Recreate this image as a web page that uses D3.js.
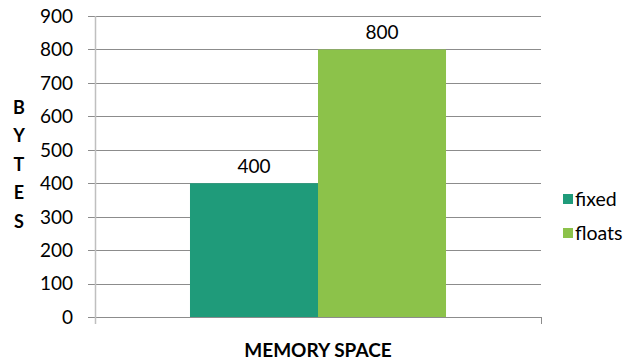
<!DOCTYPE html>
<html>
<head>
<meta charset="utf-8">
<script src="https://cdn.jsdelivr.net/npm/d3@7"></script>
<style>
  html, body { margin: 0; padding: 0; background: #fff; }
  svg { display: block; font-family: Lato, "Open Sans", sans-serif; }
</style>
</head>
<body>
<svg id="chart" width="636" height="364"></svg>
<script>
// Memory used by each number representation
const categories = ["MEMORY SPACE"];
const seriesNames = ["fixed", "floats"];
const seriesValues = [400, 800];
const seriesColors = ["#1f9b7a", "#8cc24a"];
const yTicks = [0, 100, 200, 300, 400, 500, 600, 700, 800, 900];
const yTitle = "BYTES";

const svg = d3.select("#chart");
const plot = { left: 95, right: 541, top: 16, bottom: 317 };

const y = d3.scaleLinear().domain([0, 900]).range([plot.bottom, plot.top]);
const x0 = d3.scaleBand().domain(categories).range([plot.left, plot.right]).paddingInner(0).paddingOuter(0.371);
const x1 = d3.scaleBand().domain(seriesNames).range([0, x0.bandwidth()]).padding(0);

// horizontal gridlines with small outside ticks
svg.append("g")
  .selectAll("line")
  .data(yTicks)
  .join("line")
  .attr("x1", plot.left - 7)
  .attr("x2", plot.right)
  .attr("y1", d => Math.round(y(d)) + 0.5)
  .attr("y2", d => Math.round(y(d)) + 0.5)
  .attr("stroke", "#8c8c8c")
  .attr("stroke-width", 1);

// tick labels
svg.append("g")
  .selectAll("text")
  .data(yTicks)
  .join("text")
  .attr("x", 73)
  .attr("y", d => y(d))
  .attr("dy", "0.36em")
  .attr("text-anchor", "end")
  .attr("font-size", 19)
  .attr("fill", "#000")
  .text(d => d);

// vertical axis line
svg.append("line")
  .attr("x1", plot.left + 0.5).attr("x2", plot.left + 0.5)
  .attr("y1", plot.top).attr("y2", plot.bottom + 7)
  .attr("stroke", "#bfbfbf").attr("stroke-width", 1.5);

// category boundary tick at right end
svg.append("line")
  .attr("x1", plot.right + 0.5).attr("x2", plot.right + 0.5)
  .attr("y1", plot.bottom).attr("y2", plot.bottom + 7)
  .attr("stroke", "#8c8c8c").attr("stroke-width", 1);

// bars
const group = svg.append("g")
  .attr("transform", `translate(${x0(categories[0])},0)`);

group.selectAll("rect")
  .data(seriesNames.map((s, i) => ({ s, v: seriesValues[i], c: seriesColors[i] })))
  .join("rect")
  .attr("x", d => x1(d.s))
  .attr("width", x1.bandwidth())
  .attr("y", d => y(d.v))
  .attr("height", d => y(0) - y(d.v))
  .attr("fill", d => d.c);

// value labels
group.selectAll("text")
  .data(seriesNames.map((s, i) => ({ s, v: seriesValues[i] })))
  .join("text")
  .attr("x", d => x1(d.s) + x1.bandwidth() / 2)
  .attr("y", d => y(d.v) - 10)
  .attr("text-anchor", "middle")
  .attr("font-size", 19)
  .attr("fill", "#000")
  .text(d => d.v);

// x-axis title
svg.append("text")
  .attr("x", (plot.left + plot.right) / 2)
  .attr("y", 357)
  .attr("text-anchor", "middle")
  .attr("font-size", 19)
  .attr("font-weight", "bold")
  .text(categories[0]);

// stacked y-axis title
svg.append("g")
  .selectAll("text")
  .data(yTitle.split(""))
  .join("text")
  .attr("x", 19)
  .attr("y", (d, i) => 107.5 + i * 28.5)
  .attr("dy", "0.36em")
  .attr("text-anchor", "middle")
  .attr("font-size", 18)
  .attr("font-weight", "bold")
  .text(d => d);

// legend
const legend = svg.append("g")
  .selectAll("g")
  .data(seriesNames.map((s, i) => ({ s, c: seriesColors[i] })))
  .join("g")
  .attr("transform", (d, i) => `translate(563, ${199 + i * 34})`);

legend.append("rect")
  .attr("x", 0).attr("y", -5)
  .attr("width", 10).attr("height", 10)
  .attr("fill", d => d.c);

legend.append("text")
  .attr("x", 12)
  .attr("y", 0)
  .attr("dy", "0.36em")
  .attr("font-size", 19.5)
  .text(d => d.s);
</script>
</body>
</html>
